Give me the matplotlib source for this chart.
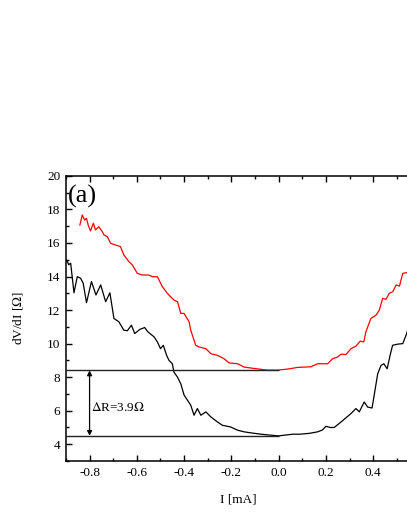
import matplotlib
matplotlib.use("Agg")
import matplotlib.pyplot as plt
from matplotlib.ticker import MultipleLocator

plt.rcParams['font.family'] = ['Liberation Serif', 'DejaVu Serif']
plt.rcParams['mathtext.fontset'] = 'stix'

# red curve (upper)
red_x = [-0.841, -0.831, -0.821, -0.813, -0.806, -0.796, -0.784, -0.775, -0.761, -0.746,
         -0.739, -0.725, -0.711, -0.690, -0.669, -0.655, -0.633, -0.619, -0.598, -0.577,
         -0.549, -0.534, -0.513, -0.492, -0.471, -0.457, -0.443, -0.428, -0.414, -0.400,
         -0.379, -0.372, -0.351, -0.337, -0.308, -0.287, -0.259, -0.231, -0.210, -0.174,
         -0.146, -0.104, -0.047, -0.005, 0.037, 0.080, 0.136, 0.165, 0.207, 0.228,
         0.249, 0.264, 0.285, 0.306, 0.327, 0.345, 0.360, 0.369, 0.390, 0.412,
         0.426, 0.440, 0.454, 0.468, 0.483, 0.497, 0.511, 0.525, 0.539, 0.548]
red_y = [17.07, 17.67, 17.37, 17.47, 17.07, 16.72, 17.18, 16.78, 16.97, 16.67,
         16.48, 16.38, 15.98, 15.88, 15.78, 15.28, 14.88, 14.69, 14.19, 14.09,
         14.09, 13.99, 13.99, 13.39, 13.00, 12.79, 12.60, 12.50, 11.80, 11.80,
         11.30, 10.80, 9.90, 9.80, 9.70, 9.40, 9.30, 9.10, 8.85, 8.80,
         8.60, 8.52, 8.42, 8.42, 8.48, 8.58, 8.62, 8.80, 8.80, 9.10,
         9.20, 9.37, 9.35, 9.70, 9.85, 10.15, 10.10, 10.70, 11.50, 11.70,
         12.00, 12.70, 12.64, 13.00, 13.10, 13.50, 13.43, 14.19, 14.23, 14.19]

# black curve (lower)
blk_x = [-0.897, -0.888, -0.880, -0.866, -0.852, -0.838, -0.827, -0.813, -0.792, -0.773,
         -0.753, -0.732, -0.714, -0.697, -0.676, -0.655, -0.640, -0.623, -0.609, -0.587,
         -0.567, -0.553, -0.527, -0.513, -0.500, -0.488, -0.474, -0.464, -0.450, -0.443,
         -0.428, -0.414, -0.400, -0.386, -0.372, -0.358, -0.344, -0.329, -0.308, -0.287,
         -0.259, -0.238, -0.203, -0.174, -0.146, -0.118, -0.075, -0.040, 0.000, 0.030,
         0.060, 0.090, 0.130, 0.165, 0.185, 0.200, 0.218, 0.235, 0.264, 0.306,
         0.327, 0.341, 0.362, 0.376, 0.395, 0.405, 0.419, 0.433, 0.445, 0.459,
         0.473, 0.482, 0.504, 0.525, 0.539, 0.548]
blk_y = [14.98, 14.70, 14.80, 13.03, 13.99, 13.90, 13.60, 12.44, 13.70, 12.90,
         13.50, 12.50, 13.03, 11.50, 11.30, 10.80, 10.77, 11.10, 10.60, 10.85,
         10.96, 10.70, 10.40, 10.10, 9.70, 9.90, 9.30, 9.00, 8.80, 8.30,
         8.00, 7.60, 6.93, 6.63, 6.33, 5.73, 6.13, 5.73, 5.93, 5.63,
         5.33, 5.13, 5.03, 4.84, 4.74, 4.68, 4.60, 4.55, 4.50, 4.55,
         4.60, 4.60, 4.65, 4.74, 4.85, 5.07, 5.00, 5.00, 5.33, 5.83,
         6.13, 5.93, 6.52, 6.22, 6.16, 7.00, 8.20, 8.70, 8.80, 8.50,
         9.40, 9.90, 9.97, 10.00, 10.50, 10.90]

r_high = 8.4
r_low = 4.5
dr_text = r'$\Delta$R=3.9$\Omega$'

fig = plt.figure(figsize=(4.07, 5.27), dpi=100)
ax = fig.add_axes([0.162, 0.1252, 0.845, 0.541])

ax.plot(red_x, red_y, color='#ff0000', lw=0.9)
ax.plot(blk_x, blk_y, color='black', lw=0.9)

ax.hlines([r_high, r_low], -0.9, 0.0, color='#222222', lw=1.0)
ax.annotate('', xy=(-0.8, r_low), xytext=(-0.8, r_high),
            arrowprops=dict(arrowstyle='<|-|>', color='black', lw=0.9,
                            mutation_scale=7, shrinkA=0, shrinkB=0))
ax.text(-0.792, 6.2, dr_text, fontsize=9.5, va='center', ha='left')
ax.text(-0.89, 18.75, '(a)', fontsize=19, va='center', ha='left')

ax.set_xlim(-0.9, 0.555)
ax.set_ylim(3, 20)
ax.xaxis.set_minor_locator(MultipleLocator(0.1))
ax.yaxis.set_minor_locator(MultipleLocator(1))
ax.set_xticks([-0.8, -0.6, -0.4, -0.2, 0.0, 0.2, 0.4])
ax.set_xticklabels(['-0.8', '-0.6', '-0.4', '-0.2', '0.0', '0.2', '0.4'])
ax.set_yticks([4, 6, 8, 10, 12, 14, 16, 18, 20])

ax.tick_params(which='both', direction='in', top=True, right=False,
               labelsize=9.5, width=1.0)
ax.tick_params(which='major', length=4.5, pad=4)
ax.tick_params(which='minor', length=2.5)
for s in ax.spines.values():
    s.set_linewidth(1.1)
ax.spines['right'].set_visible(False)

ax.set_xlabel('I [mA]', fontsize=9.5, labelpad=11)
ax.set_ylabel(r'dV/dI [$\Omega$]', fontsize=9.5, labelpad=16)

fig.savefig('out.png', dpi=100)
